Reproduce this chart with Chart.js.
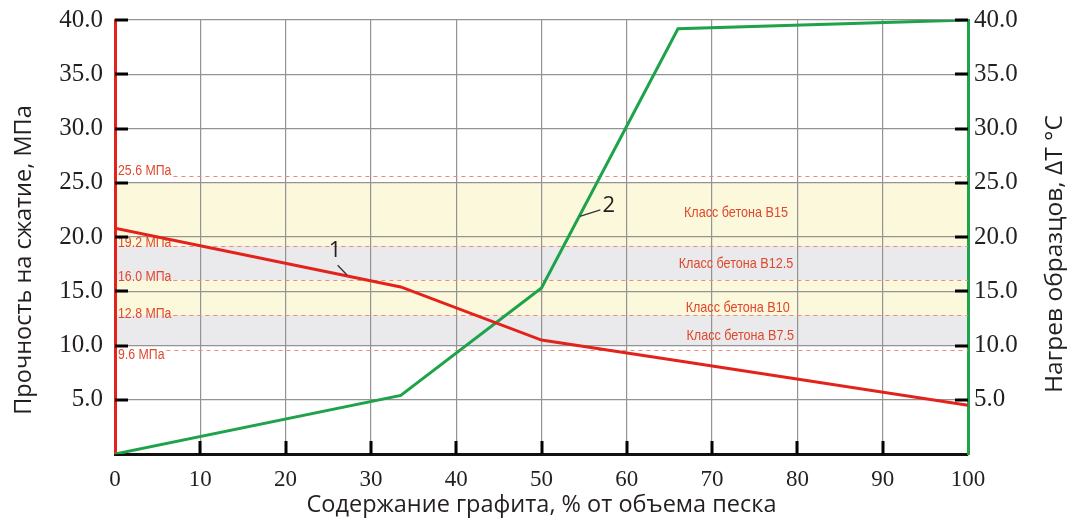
<!DOCTYPE html>
<html><head><meta charset="utf-8">
<script src="https://cdn.jsdelivr.net/npm/chart.js@4.4.0/dist/chart.umd.min.js"></script>
<style>html,body{margin:0;padding:0;background:#fff}#wrap{width:1067px;height:518px}</style>
</head><body><div id="wrap"><canvas id="c" width="1067" height="518"></canvas></div>
<script>
// ---- data ----
const graphiteContent = [0, 33.5, 50, 66, 100];          // % of sand volume
const compressiveStrength = [20.8, 15.4, 10.5, 8.6, 4.5]; // MPa (curve 1)
const sampleHeating = [0, 5.4, 15.3, 39.2, 40.0];         // ΔT °C (curve 2)
const yTickValues = [5, 10, 15, 20, 25, 30, 35, 40];
const xTickValues = [0, 10, 20, 30, 40, 50, 60, 70, 80, 90, 100];
const classLimitValues = [25.6, 19.2, 16.0, 12.8, 9.6];
const classLimitLabels = ['25.6 МПа', '19.2 МПа', '16.0 МПа', '12.8 МПа', '9.6 МПа'];
const bandTops = [25.0, 19.2, 16.0, 12.8];
const bandBottoms = [19.2, 16.0, 12.8, 10.0];
const bandNames = ['Класс бетона B15', 'Класс бетона B12.5', 'Класс бетона B10', 'Класс бетона B7.5'];
const curveLabels = ['1', '2'];
const xTitle = 'Содержание графита, % от объема песка';
const yTitle = 'Прочность на сжатие, МПа';
const y1Title = 'Нагрев образцов, ΔT °C';

const RED = '#e3231b', GREEN = '#1ea34b', TXT = '#231f20';
const SERIF = "'Liberation Serif','Times New Roman',serif";
const SANS = "'Open Sans','Noto Sans',sans-serif";
const NARROW = "'Liberation Sans','Arial',sans-serif";

const toPts = (xs, ys) => xs.map((x, i) => ({x, y: ys[i]}));
const noPad = s => { s.paddingTop = 0; s.paddingBottom = 0; s.paddingLeft = 0; s.paddingRight = 0; };

const deco = {
  id: 'deco',
  beforeDraw(chart) {
    const {ctx, chartArea: a, scales: {y}} = chart;
    ctx.save();
    const fills = ['#fcf8dc', '#eaeaec', '#fcf8dc', '#eaeaec'];
    bandTops.forEach((t, i) => {
      const y1 = y.getPixelForValue(t), y2 = y.getPixelForValue(bandBottoms[i]);
      ctx.fillStyle = fills[i];
      ctx.fillRect(a.left, y1, a.right - a.left, y2 - y1);
    });
    ctx.restore();
  },
  beforeDatasetsDraw(chart) {
    const {ctx, chartArea: a, scales: {x, y}} = chart;
    ctx.save();
    ctx.font = '14px ' + NARROW;
    const offs = [-5, -3, -3, -1, 5];
    classLimitValues.forEach((v, i) => {
      const py = Math.round(y.getPixelForValue(v)) + 0.5;
      const w = ctx.measureText(classLimitLabels[i]).width * 0.88;
      ctx.fillStyle = '#e0482c';
      ctx.textBaseline = 'middle';
      ctx.textAlign = 'left';
      ctx.save();
      ctx.translate(a.left + 3, py + offs[i]);
      ctx.scale(0.88, 1);
      ctx.fillText(classLimitLabels[i], 0, 0);
      ctx.restore();
      ctx.strokeStyle = '#ec8a74';
      ctx.lineWidth = 1;
      ctx.setLineDash([4, 4]);
      ctx.beginPath();
      ctx.moveTo(a.left + 5 + w, py);
      ctx.lineTo(a.right, py);
      ctx.stroke();
    });
    ctx.setLineDash([]);
    ctx.font = '14.5px ' + NARROW;
    ctx.fillStyle = '#e0482c';
    ctx.textAlign = 'center';
    ctx.textBaseline = 'middle';
    const bx = [72.8, 72.8, 73.0, 73.3];
    const by = [22.2, 17.5, 13.5, 10.9];
    bandNames.forEach((n, i) => {
      ctx.save();
      ctx.translate(x.getPixelForValue(bx[i]), y.getPixelForValue(by[i]));
      ctx.scale(0.87, 1);
      ctx.fillText(n, 0, 0);
      ctx.restore();
    });
    ctx.restore();
  },
  afterDatasetsDraw(chart) {
    const {ctx, chartArea: a, scales: {x, y, y1}} = chart;
    ctx.save();
    ctx.strokeStyle = '#000';
    ctx.lineWidth = 3;
    yTickValues.forEach(v => {
      const py = Math.round(y.getPixelForValue(v));
      ctx.beginPath(); ctx.moveTo(a.left, py); ctx.lineTo(a.left + 13, py); ctx.stroke();
      const py2 = Math.round(y1.getPixelForValue(v));
      ctx.beginPath(); ctx.moveTo(a.right - 13, py2); ctx.lineTo(a.right, py2); ctx.stroke();
    });
    xTickValues.forEach(v => {
      if (v === 0 || v === 100) return;
      const px = Math.round(x.getPixelForValue(v));
      ctx.beginPath(); ctx.moveTo(px, a.bottom); ctx.lineTo(px, a.bottom - 13); ctx.stroke();
    });
    // curve labels with leader lines
    ctx.strokeStyle = '#333';
    ctx.lineWidth = 1.3;
    ctx.beginPath();
    ctx.moveTo(x.getPixelForValue(26.1), y.getPixelForValue(17.4));
    ctx.lineTo(x.getPixelForValue(27.2), y.getPixelForValue(16.5));
    ctx.moveTo(x.getPixelForValue(54.5), y.getPixelForValue(21.9));
    ctx.lineTo(x.getPixelForValue(56.9), y.getPixelForValue(22.5));
    ctx.stroke();
    ctx.fillStyle = TXT;
    ctx.font = '22px ' + SANS;
    ctx.textAlign = 'center';
    ctx.textBaseline = 'middle';
    ctx.fillText(curveLabels[0], x.getPixelForValue(25.8), y.getPixelForValue(18.7));
    ctx.fillText(curveLabels[1], x.getPixelForValue(57.9), y.getPixelForValue(22.9));
    ctx.restore();
  },
  afterDraw(chart) {
    const {ctx, chartArea: a} = chart;
    ctx.save();
    ctx.fillStyle = TXT;
    ctx.font = '23.5px ' + SANS;
    ctx.textAlign = 'center';
    ctx.textBaseline = 'middle';
    ctx.fillText(xTitle, (a.left + a.right) / 2, 505);
    ctx.save();
    ctx.translate(24, 260);
    ctx.rotate(-Math.PI / 2);
    ctx.fillText(yTitle, 0, 0);
    ctx.restore();
    ctx.save();
    ctx.translate(1055, 254);
    ctx.rotate(-Math.PI / 2);
    ctx.font = '24.5px ' + SANS;
    ctx.fillText(y1Title, 0, 0);
    ctx.restore();
    ctx.restore();
  }
};

new Chart(document.getElementById('c'), {
  type: 'line',
  data: {
    datasets: [
      {label: 'Прочность', data: toPts(graphiteContent, compressiveStrength), yAxisID: 'y',
       borderColor: RED, borderWidth: 3, pointRadius: 0, tension: 0, fill: false},
      {label: 'Нагрев', data: toPts(graphiteContent, sampleHeating), yAxisID: 'y1',
       borderColor: GREEN, borderWidth: 3, pointRadius: 0, tension: 0, fill: false}
    ]
  },
  options: {
    responsive: false,
    animation: false,
    devicePixelRatio: 1,
    layout: {padding: {top: 20, left: 0, right: 0, bottom: 0}},
    plugins: {legend: {display: false}, tooltip: {enabled: false}},
    scales: {
      x: {
        type: 'linear', min: 0, max: 100,
        afterBuildTicks: s => { s.ticks = xTickValues.map(v => ({value: v})); },
        ticks: {callback: v => String(v), font: {family: SERIF, size: 23}, color: TXT, padding: 12, maxRotation: 0},
        grid: {drawTicks: false, color: c => (c.tick && (c.tick.value === 0 || c.tick.value === 100)) ? 'rgba(0,0,0,0)' : '#939393', lineWidth: 1.2},
        border: {color: '#111', width: 3},
        title: {display: false},
        afterFit: s => { s.height = 64; noPad(s); }
      },
      y: {
        position: 'left', min: 0, max: 40,
        afterBuildTicks: s => { s.ticks = [0].concat(yTickValues).map(v => ({value: v})); },
        ticks: {callback: v => v === 0 ? '' : v.toFixed(1), font: {family: SERIF, size: 25}, color: TXT, padding: 12},
        grid: {drawTicks: false, color: c => (c.tick && c.tick.value === 0) ? 'rgba(0,0,0,0)' : '#939393', lineWidth: 1.2},
        border: {color: RED, width: 3},
        title: {display: false},
        afterFit: s => { s.width = 115; noPad(s); }
      },
      y1: {
        position: 'right', min: 0, max: 40,
        afterBuildTicks: s => { s.ticks = [0].concat(yTickValues).map(v => ({value: v})); },
        ticks: {callback: v => v === 0 ? '' : v.toFixed(1), font: {family: SERIF, size: 25}, color: TXT, padding: 6},
        grid: {display: false, drawTicks: false},
        border: {color: GREEN, width: 3},
        title: {display: false},
        afterFit: s => { s.width = 99; noPad(s); }
      }
    }
  },
  plugins: [deco]
});
</script></body></html>
